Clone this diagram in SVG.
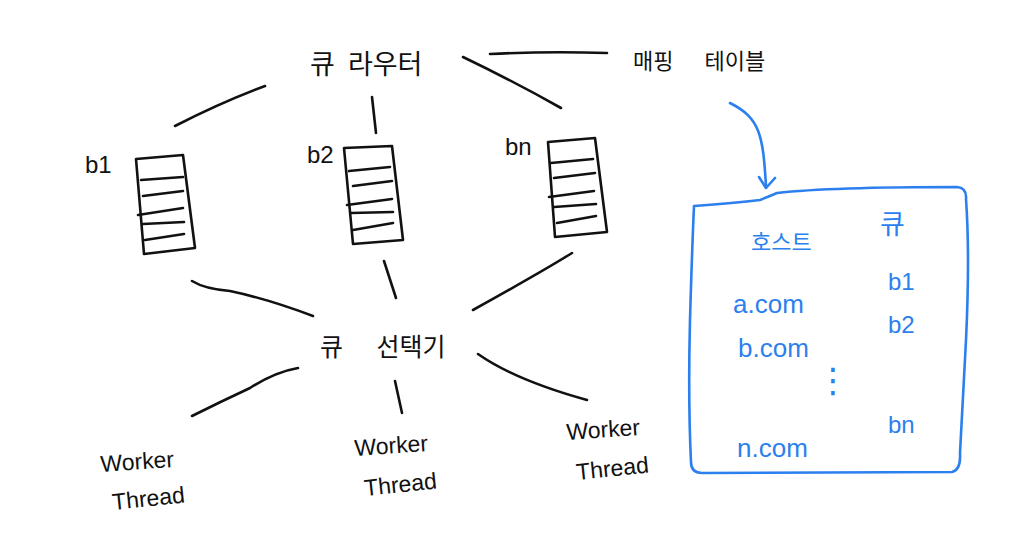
<svg xmlns="http://www.w3.org/2000/svg" width="1011" height="552" viewBox="0 0 1011 552">
<style>
.ln{fill:none;stroke:#111;stroke-width:2.6;stroke-linecap:round;stroke-linejoin:round}
.bl{fill:none;stroke:#2b7fee;stroke-width:2.6;stroke-linecap:round;stroke-linejoin:round}
.ko{font-family:"Noto Sans CJK KR","Noto Sans",sans-serif;fill:#111}
.en{font-family:"Liberation Sans","Noto Sans",sans-serif;fill:#111}
.bt{fill:#2b7fee}
</style>
<rect width="1011" height="552" fill="#fff"/>
<g id="connectors">
<path class="ln" d="M175,126 Q222,102 265,86"/>
<path class="ln" d="M372,97 L376,133"/>
<path class="ln" d="M463,57 Q515,82 561,108"/>
<path class="ln" d="M490,54 Q548,51 607,53"/>
<path class="ln" d="M192,281 Q205,289 230,291 Q268,299 313,316"/>
<path class="ln" d="M384,261 L396,298"/>
<path class="ln" d="M473,310 Q545,270 572,253"/>
<path class="ln" d="M298,368 Q275,372 250,388 Q220,402 192,416"/>
<path class="ln" d="M395,381 L402,413"/>
<path class="ln" d="M478,354 Q515,380 587,400"/>
<path class="bl" d="M730,103 C760,118 763,135 766,186"/>
<path class="bl" d="M759,177 L766,188 L775,178"/>
</g>
<g id="router">
<text class="ko" x="310" y="74" font-size="27" word-spacing="7">큐 라우터</text>
</g>
<g id="mapping-label">
<text class="ko" x="633" y="69" font-size="22" word-spacing="26">매핑 테이블</text>
</g>
<g id="queue-b1">
<text class="en" x="85" y="173" font-size="24">b1</text>
<path class="ln" d="M136,159 L183,155 L195,248 L144,254 Z"/>
<path class="ln" d="M141,180 L183,177 M143,196 L183,191 M138,215 L183,208 M143,224 L184,222 M145,240 L184,234"/>
</g>
<g id="queue-b2">
<text class="en" x="307" y="163" font-size="24">b2</text>
<path class="ln" d="M344,148 L392,146 L403,240 L353,244 Z"/>
<path class="ln" d="M349,171 L390,167 M353,186 L392,181 M347,205 L392,199 M351,213 L393,212 M353,230 L393,223"/>
</g>
<g id="queue-bn">
<text class="en" x="505" y="155" font-size="24">bn</text>
<path class="ln" d="M548,142 L595,138 L607,232 L555,237 Z"/>
<path class="ln" d="M551,163 L593,159 M554,178 L595,173 M549,197 L594,191 M554,207 L596,204 M557,223 L596,216"/>
</g>
<g id="selector">
<text class="ko" x="320" y="356" font-size="25" word-spacing="28">큐 선택기</text>
</g>
<g id="worker1">
<text class="en" x="101" y="472" font-size="23" transform="rotate(-4 101 472)">Worker</text>
<text class="en" x="113" y="510" font-size="23" transform="rotate(-6 113 510)">Thread</text>
</g>
<g id="worker2">
<text class="en" x="355" y="456" font-size="23" transform="rotate(-4 355 456)">Worker</text>
<text class="en" x="365" y="496" font-size="23" transform="rotate(-6 365 496)">Thread</text>
</g>
<g id="worker3">
<text class="en" x="567" y="440" font-size="23" transform="rotate(-4 567 440)">Worker</text>
<text class="en" x="577" y="480" font-size="23" transform="rotate(-6 577 480)">Thread</text>
</g>
<g id="mapping-table">
<path class="bl" d="M694,206 Q735,203 760,200 Q770,196 777,193 Q830,187 957,187 Q967,188 966,199 Q970,255 966,340 Q962,420 960,453 Q961,470 952,472 L702,473 Q691,473 691,462 Q688,400 690,320 Q692,250 694,206 Z"/>
<text class="ko bt" x="751" y="250" font-size="22">호스트</text>
<text class="ko bt" x="880" y="234" font-size="27">큐</text>
<text class="en bt" x="888" y="290" font-size="24">b1</text>
<text class="en bt" x="733" y="313" font-size="26">a.com</text>
<text class="en bt" x="888" y="333" font-size="24">b2</text>
<text class="en bt" x="738" y="357" font-size="26">b.com</text>
<text class="bt" x="833" y="392" font-size="34" text-anchor="middle" font-family="DejaVu Sans, sans-serif">⋮</text>
<text class="en bt" x="888" y="433" font-size="24">bn</text>
<text class="en bt" x="737" y="457" font-size="26">n.com</text>
</g>
</svg>
